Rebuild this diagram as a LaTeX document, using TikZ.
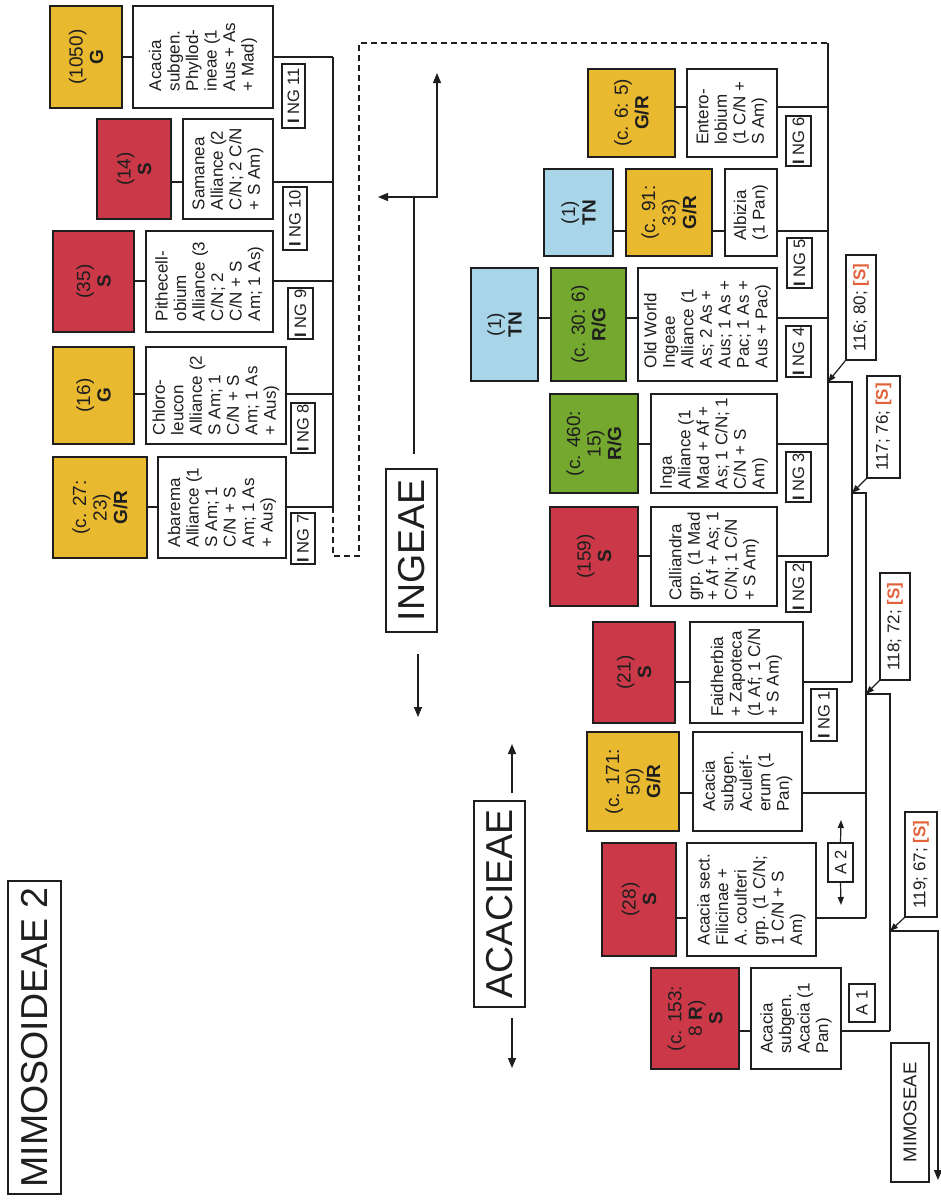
\documentclass[tikz,border=0pt]{standalone}
\usepackage{fontspec}
\setmainfont{Liberation Sans}
\usetikzlibrary{arrows.meta}
\definecolor{gold}{HTML}{E9B930}
\definecolor{crim}{HTML}{CB3847}
\definecolor{leaf}{HTML}{74A82F}
\definecolor{sky}{HTML}{A9D5E8}
\definecolor{rust}{HTML}{E2623B}
\definecolor{ink}{HTML}{1E1E1E}
\tikzset{
  base/.style={draw=ink, line width=1.2pt, rotate=90, inner sep=1pt, text=ink, anchor=center},
  dims/.style 2 args={minimum width=#2pt, minimum height=#1pt},
  taxon/.style={base, fill=white, align=left, font=\fontsize{17}{18.5}\selectfont},
  grade/.style={base, align=center, font=\fontsize{19}{20.5}\selectfont},
  tag/.style={base, fill=white, font=\fontsize{16.5}{18}\selectfont},
  tribe/.style={base, fill=white, font=\fontsize{37.5}{40}\selectfont},
  link/.style={draw=ink, line width=1.2pt},
  tip/.style={link, -{Triangle[length=10pt,width=8pt]}},
  ptr/.style={link, -{Triangle[length=8pt,width=6pt]}},
  fence/.style={link, dash pattern=on 6pt off 4pt},
}
\newcommand{\sv}[1]{#1~\textcolor{rust}{\textbf{[S]}}}
\begin{document}
\begin{tikzpicture}[x=1pt, y=-1pt]
\fill[white] (0,0) rectangle (940,1202);
\useasboundingbox (0,0) rectangle (940,1202);

% ---------- section titles ----------
\node[tribe, dims={53}{313}] (mimo2) at (34.5,1037.5) {MIMOSOIDEAE 2};
\node[tribe, dims={51}{163}] (ingeae) at (411.5,550.5) {INGEAE};
\node[tribe, dims={51}{206}] (acacieae) at (499.5,904) {ACACIEAE};
\node[tag, dims={38}{139}, font=\fontsize{18.5}{20}\selectfont] (mimoseae) at (910,1112.5) {MIMOSEAE};

% ---------- Ingeae, groups NG 7-11 ----------
\node[grade, fill=gold, dims={72}{102}] (yA) at (86,57) {(1050)\\\textbf{G}};
\node[taxon, dims={140}{102}] (wA) at (203,57) {Acacia\\subgen.\\Phyllod-\\ineae (1\\Aus + As\\+ Mad)};
\node[grade, fill=crim, dims={74}{100}] (rB) at (134,169) {(14)\\\textbf{S}};
\node[taxon, dims={90}{100}] (wB) at (228,169) {Samanea\\Alliance (2\\C/N; 2 C/N\\+ S Am)};
\node[grade, fill=crim, dims={81}{101}] (rC) at (93.5,281.5) {(35)\\\textbf{S}};
\node[taxon, dims={127}{101}] (wC) at (209.5,281.5) {Pithecell-\\obium\\Alliance (3\\C/N; 2\\C/N + S\\Am; 1 As)};
\node[grade, fill=gold, dims={81}{97}] (yD) at (93.5,395.5) {(16)\\\textbf{G}};
\node[taxon, dims={140}{97}] (wD) at (216,395.5) {Chloro-\\leucon\\Alliance (2\\S Am; 1\\C/N + S\\Am; 1 As\\+ Aus)};
\node[grade, fill=gold, dims={94}{101}] (yE) at (100,507.5) {(c. 27:\\23)\\\textbf{G/R}};
\node[taxon, dims={128}{101}] (wE) at (222,507.5) {Abarema\\Alliance (1\\S Am; 1\\C/N + S\\Am; 1 As\\+ Aus)};

\node[tag, dims={23}{64}] (ng11) at (293.5,96) {\textbf{I} NG 11};
\node[tag, dims={24}{63}] (ng10) at (295,218.5) {\textbf{I} NG 10};
\node[tag, dims={25}{51}] (ng9) at (300.5,313.5) {\textbf{I} NG 9};
\node[tag, dims={24}{50}] (ng8) at (303,428) {\textbf{I} NG 8};
\node[tag, dims={24}{51}] (ng7) at (303,538.5) {\textbf{I} NG 7};

% ---------- Ingeae, groups NG 1-6 ----------
\node[grade, fill=gold, dims={87}{88}] (yF) at (631.5,113) {(c. 6: 5)\\\textbf{G/R}};
\node[taxon, dims={90}{88}] (wF) at (732,113) {Entero-\\lobium\\(1 C/N +\\S Am)};
\node[grade, fill=sky, dims={69}{87}] (bG) at (578.5,212.5) {(1)\\\textbf{TN}};
\node[grade, fill=gold, dims={86}{87}] (yG) at (669,212.5) {(c. 91:\\33)\\\textbf{G/R}};
\node[taxon, dims={52}{87}] (wG) at (751,212.5) {Albizia\\(1 Pan)};
\node[grade, fill=sky, dims={67}{113}] (bH) at (504.5,324.5) {(1)\\\textbf{TN}};
\node[grade, fill=leaf, dims={75}{113}] (gH) at (588.5,324.5) {(c. 30: 6)\\\textbf{R/G}};
\node[taxon, dims={139}{113}] (wH) at (707.5,324.5) {Old World\\Ingeae\\Alliance (1\\As; 2 As +\\Aus; 1 As +\\Pac; 1 As +\\Aus + Pac)};
\node[grade, fill=leaf, dims={88}{99}] (gI) at (594,443.5) {(c. 460:\\15)\\\textbf{R/G}};
\node[taxon, dims={126}{99}] (wI) at (714,443.5) {Inga\\Alliance (1\\Mad + Af +\\As; 1 C/N; 1\\C/N + S\\Am)};
\node[grade, fill=crim, dims={88}{99}] (rJ) at (594,556.5) {(159)\\\textbf{S}};
\node[taxon, dims={126}{99}] (wJ) at (714,556.5) {Calliandra\\grp. (1 Mad\\+ Af + As; 1\\C/N; 1 C/N\\+ S Am)};

\node[tag, dims={25}{50}] (ng6) at (798.5,141) {\textbf{I} NG 6};
\node[tag, dims={25}{50}] (ng5) at (799.5,263) {\textbf{I} NG 5};
\node[tag, dims={25}{51}] (ng4) at (798.5,351.5) {\textbf{I} NG 4};
\node[tag, dims={25}{50}] (ng3) at (798.5,477) {\textbf{I} NG 3};
\node[tag, dims={25}{50}] (ng2) at (798.5,587) {\textbf{I} NG 2};

% ---------- NG 1 and Acacieae ----------
\node[grade, fill=crim, dims={82}{101}] (rK) at (634,672.5) {(21)\\\textbf{S}};
\node[taxon, dims={113}{101}] (wK) at (746.5,672.5) {Faidherbia\\+ Zapoteca\\(1 Af; 1 C/N\\+ S Am)};
\node[tag, dims={26}{52}] (ng1) at (824,715) {\textbf{I} NG 1};
\node[grade, fill=gold, dims={92}{99}] (yL) at (633,781.5) {(c. 171:\\50)\\\textbf{G/R}};
\node[taxon, dims={109}{99}] (wL) at (747.5,781.5) {Acacia\\subgen.\\Aculeif-\\erum (1\\Pan)};
\node[grade, fill=crim, dims={74}{113}] (rM) at (639,899.5) {(28)\\\textbf{S}};
\node[taxon, dims={129}{113}] (wM) at (751.5,899.5) {Acacia sect.\\Filicinae +\\A. coulteri\\grp. (1 C/N;\\1 C/N + S\\Am)};
\node[grade, fill=crim, dims={88}{101}] (rN) at (695,1018.5) {(c. 153:\\8 \textbf{R})\\\textbf{S}};
\node[taxon, dims={90}{101}] (wN) at (796,1018.5) {Acacia\\subgen.\\Acacia (1\\Pan)};
\node[tag, dims={25}{39}] (a2) at (840.5,862.5) {A 2};
\node[tag, dims={26}{38}] (a1) at (862,1003) {A 1};

% ---------- node support labels ----------
\node[tag, dims={30}{105}, font=\fontsize{17}{18}\selectfont] (l116) at (861,307.5) {\sv{116; 80;}};
\node[tag, dims={33}{102}, font=\fontsize{17}{18}\selectfont] (l117) at (883.5,427) {\sv{117; 76;}};
\node[tag, dims={30}{107}, font=\fontsize{17}{18}\selectfont] (l118) at (895,626.5) {\sv{118; 72;}};
\node[tag, dims={32}{105}, font=\fontsize{17}{18}\selectfont] (l119) at (921,864.5) {\sv{119; 67;}};

% ---------- tree junctions ----------
\coordinate (kA) at (333,57);
\coordinate (kB) at (333,182);
\coordinate (kC) at (333,281);
\coordinate (kD) at (333,394);
\coordinate (kE) at (333,507);
\coordinate (d1) at (333,556);
\coordinate (d2) at (359,556);
\coordinate (d3) at (359,43);
\coordinate (iTop) at (828,43);
\coordinate (kF) at (828,107);
\coordinate (kG) at (828,231);
\coordinate (kH) at (828,318);
\coordinate (n116) at (828,382);
\coordinate (kI) at (828,444);
\coordinate (kJ) at (828,556);
\coordinate (n116r) at (852,382);
\coordinate (n117) at (852,493);
\coordinate (kK) at (852,682);
\coordinate (n117r) at (866,493);
\coordinate (n118) at (866,694);
\coordinate (kL) at (866,793);
\coordinate (kM) at (866,918);
\coordinate (n118r) at (890,694);
\coordinate (n119) at (890,931);
\coordinate (kN) at (890,1031);
\coordinate (n119r) at (938,931);
\coordinate (mimOut) at (938,1180);

% ---------- grade to taxon links ----------
\foreach \g/\t/\k in {yA/wA/kA, rB/wB/kB, rC/wC/kC, yD/wD/kD, yE/wE/kE,
                      yF/wF/kF, yG/wG/kG, gH/wH/kH, gI/wI/kI, rJ/wJ/kJ,
                      rK/wK/kK, yL/wL/kL, rM/wM/kM, rN/wN/kN}{
  \draw[link] (\g.south |- \k) -- (\t.north |- \k);
  \draw[link] (\t.south |- \k) -- (\k);
}
\draw[link] (bG.south |- kG) -- (yG.north |- kG);
\draw[link] (bH.south |- kH) -- (gH.north |- kH);

% ---------- backbone ----------
\draw[link] (kA) -- (kE);
\draw[fence] (kE) -- (d1) -- (d2) -- (d3) -- (iTop);
\draw[link] (iTop) -- (kJ);
\draw[link] (n116) -- (n116r) -- (kK);
\draw[link] (n117) -- (n117r) -- (kM);
\draw[link] (n118) -- (n118r) -- (kN);
\draw[tip] (n119) -- (n119r) -- (mimOut);

% ---------- support pointers ----------
\draw[ptr] (l116.north west) -- (n116);
\draw[ptr] (l117.north west) -- (n117);
\draw[ptr] (l118.north west) -- (n118);
\draw[ptr] (l119.north west) -- (n119);

% ---------- A 2 double arrow ----------
\coordinate (a2up) at (841,820);
\coordinate (a2dn) at (841,905);
\draw[ptr] (a2.east) -- (a2up);
\draw[ptr] (a2.west) -- (a2dn);

% ---------- tribe arrows ----------
\coordinate (ingStem) at (414,454);
\coordinate (ingFork) at (414,197);
\coordinate (ingLeft) at (378,197);
\coordinate (ingBend) at (437,197);
\coordinate (ingRise) at (437,73);
\coordinate (ingBelow) at (418,654);
\coordinate (ingDown) at (418,717);
\draw[link] (ingStem) -- (ingFork);
\draw[tip] (ingFork) -- (ingLeft);
\draw[tip] (ingFork) -- (ingBend) -- (ingRise);
\draw[tip] (ingBelow) -- (ingDown);

\coordinate (acaAbove) at (512,793);
\coordinate (acaUp) at (512,744);
\coordinate (acaBelow) at (512,1018);
\coordinate (acaDown) at (512,1068);
\draw[tip] (acaAbove) -- (acaUp);
\draw[tip] (acaBelow) -- (acaDown);
\end{tikzpicture}
\end{document}
